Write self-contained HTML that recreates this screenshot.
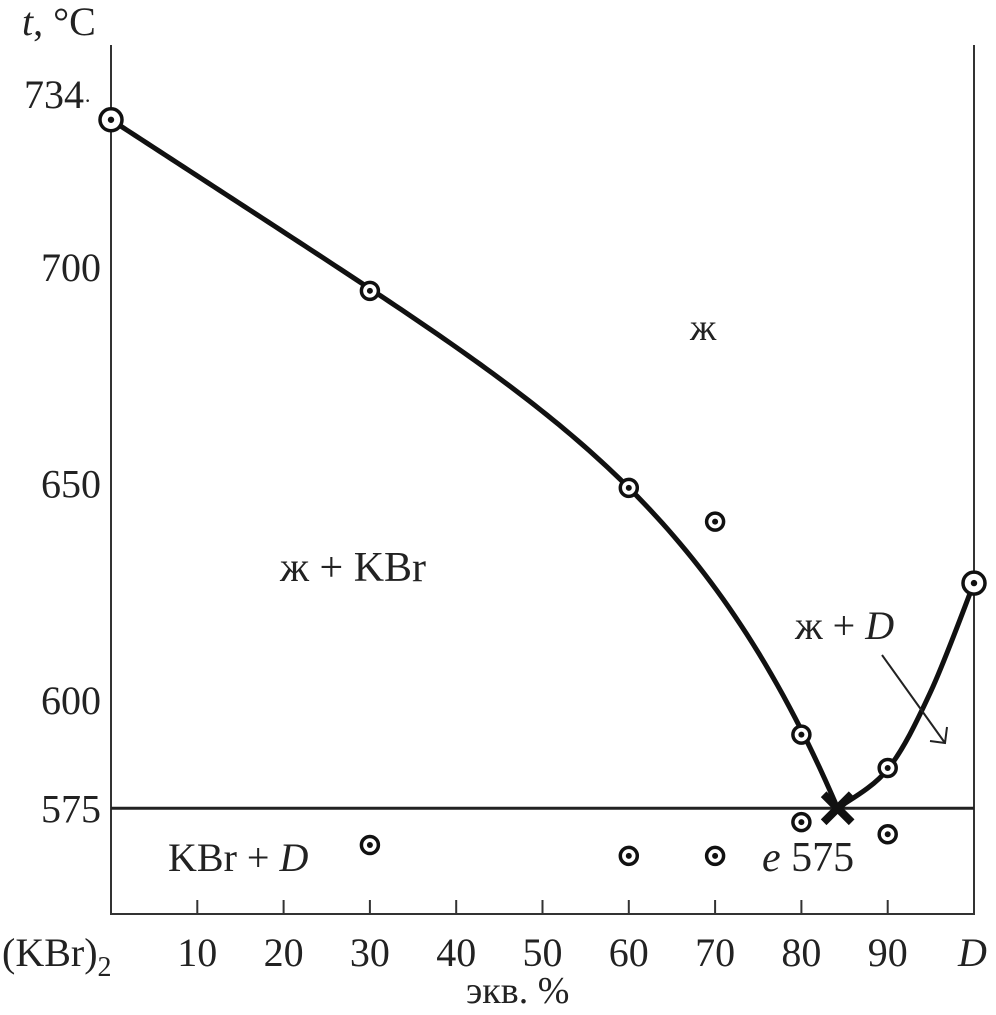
<!DOCTYPE html>
<html><head><meta charset="utf-8"><style>
html,body{margin:0;padding:0;background:#fff;}
svg{display:block;font-family:"Liberation Serif",serif;}
</style></head><body>
<svg id="chart" width="996" height="1015" viewBox="0 0 996 1015"></svg>
<script>
const xTicks=[10,20,30,40,50,60,70,80,90];
const yTicks=[700,650,600,575];
const liquidusLeft=[[0,734],[30,695],[60,649],[84.2,575]];
const liquidusRight=[[84.2,575],[90,584],[95,602],[100,627]];
const pointsX=[30,60,70,80,90,80,90,30,60,70];
const pointsT=[694.5,649,641.2,592,584.3,571.8,569,566.5,564,564];
const bigX=[0,100];
const bigT=[734,627];
const eutecticT=575, eutecticX=84.2;

const X=v=>111+v*8.63;
const Y=t=>700-(t-600)*4.33;
const NS="http://www.w3.org/2000/svg";
const svg=document.getElementById('chart');
function mk(tag,attrs,parent){const e=document.createElementNS(NS,tag);for(const k in attrs)e.setAttribute(k,attrs[k]);(parent||svg).appendChild(e);return e;}
function txt(x,y,s,size,name,extra){const e=mk('text',Object.assign({x:x,y:y,'font-size':size,fill:'#222'},extra||{}));e.innerHTML=s;


return e;}

const ax=mk('path',{d:`M111 45 V914 H974 V45`,fill:'none',stroke:'#333','stroke-width':2});


xTicks.forEach(v=>{const t=mk('line',{x1:X(v),x2:X(v),y1:914,y2:900,stroke:'#333','stroke-width':2});


txt(X(v),966,String(v),40,'x-tick-label',{'text-anchor':'middle'});});
yTicks.forEach(v=>{txt(101,Y(v)+14,String(v),40,'y-tick-label',{'text-anchor':'end'});});
txt(24,108,'734<tspan font-size="22">·</tspan>',40,'y-tick-label-734');
txt(22,35,'<tspan font-style="italic">t</tspan>, °C',40,'y-axis-title');
txt(2,966,'(KBr)<tspan font-size="28" dy="10">2</tspan>',40,'x-axis-left-label');
txt(958,966,'D',40,'x-axis-right-label',{'font-style':'italic'});
txt(466,1003,'экв. %',38,'x-axis-title');

const el=mk('line',{x1:111,x2:974,y1:Y(eutecticT),y2:Y(eutecticT),stroke:'#222','stroke-width':3});



// smooth model t = t0 - a*(x-x0) - b*(x-x0)^n fitted through the 4 points
function fitModel(pts){const x0=pts[0][0],t0=pts[0][1];
const u1=pts[1][0]-x0,d1=t0-pts[1][1],u2=pts[2][0]-x0,d2=t0-pts[2][1],u3=pts[3][0]-x0,d3=t0-pts[3][1];
function solve(n){const b=(d2-d1*u2/u1)/(Math.pow(u2,n)-Math.pow(u1,n)*u2/u1);const a=(d1-b*Math.pow(u1,n))/u1;return [a,b];}
function res(n){const [a,b]=solve(n);return a*u3+b*Math.pow(u3,n)-d3;}
let lo=1.5,hi=12;for(let k=0;k<60;k++){const m=(lo+hi)/2;if(res(lo)*res(m)<=0)hi=m;else lo=m;}
const n=(lo+hi)/2,[a,b]=solve(n);
return x=>t0-a*(x-x0)-b*Math.pow(x-x0,n);}
function modelPath(pts){const f=fitModel(pts),xa=pts[0][0],xb=pts[pts.length-1][0];let d='';
for(let k=0;k<=120;k++){const x=xa+(xb-xa)*k/120;d+=(k?'L':'M')+X(x).toFixed(2)+' '+Y(f(x)).toFixed(2)+' ';}return d;}
function smooth(pts){const p=pts.map(a=>[X(a[0]),Y(a[1])]);let d=`M${p[0][0]} ${p[0][1]}`;
for(let i=0;i<p.length-1;i++){const p0=p[i-1]||p[i],p1=p[i],p2=p[i+1],p3=p[i+2]||p2;
const c1=[p1[0]+(p2[0]-p0[0])/6,p1[1]+(p2[1]-p0[1])/6],c2=[p2[0]-(p3[0]-p1[0])/6,p2[1]-(p3[1]-p1[1])/6];
d+=` C${c1[0]} ${c1[1]} ${c2[0]} ${c2[1]} ${p2[0]} ${p2[1]}`;}return d;}
const l1=mk('path',{d:modelPath(liquidusLeft),fill:'none',stroke:'#111','stroke-width':5,'stroke-linejoin':'round'});


const l2=mk('path',{d:smooth(liquidusRight),fill:'none',stroke:'#111','stroke-width':5,'stroke-linejoin':'round'});



const ex=X(eutecticX),ey=Y(eutecticT);
const cr=mk('path',{d:`M${ex-14} ${ey-14} L${ex+14} ${ey+14} M${ex+14} ${ey-14} L${ex-14} ${ey+14}`,stroke:'#111','stroke-width':8});



pointsX.forEach((v,i)=>{const g=mk('g',{});


mk('circle',{cx:X(v),cy:Y(pointsT[i]),r:8.5,fill:'#fff',stroke:'#111','stroke-width':3.5},g);
mk('circle',{cx:X(v),cy:Y(pointsT[i]),r:3,fill:'#111'},g);});
bigX.forEach((v,i)=>{const g=mk('g',{});


mk('circle',{cx:X(v),cy:Y(bigT[i]),r:11,fill:'#fff',stroke:'#111','stroke-width':3.5},g);
mk('circle',{cx:X(v),cy:Y(bigT[i]),r:3.2,fill:'#111'},g);});

txt(690,340,'ж',38,'region-liquid');
txt(280,581,'ж + KBr',42,'region-liquid-kbr');
txt(795,639,'ж + <tspan font-style="italic">D</tspan>',40,'region-liquid-d');
txt(168,871,'KBr + <tspan font-style="italic">D</tspan>',40,'region-kbr-d');
txt(762,871,'<tspan font-style="italic">e</tspan>  575',42,'eutectic-label',{'xml:space':'preserve'});
const ar=mk('path',{d:'M882 655 L945 743 M930 741 L945 743 L947 727',fill:'none',stroke:'#222','stroke-width':2});


</script>
</body></html>
